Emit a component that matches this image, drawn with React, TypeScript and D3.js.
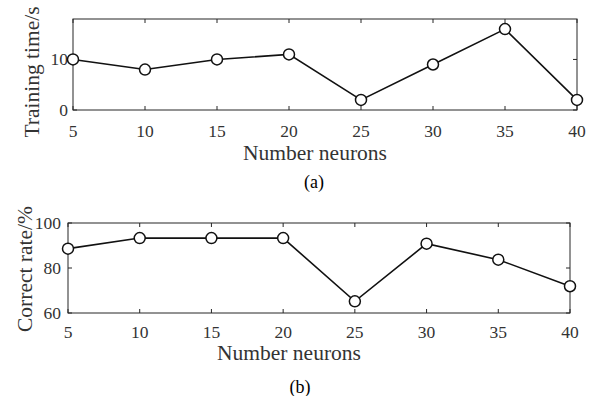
import React from "react";
import * as d3 from "d3";

const neurons = [5, 10, 15, 20, 25, 30, 35, 40];
const trainingTime = [10, 8, 10, 11, 2, 9, 16, 2];
const correctRate = [88.6, 93.3, 93.3, 93.3, 65.2, 90.8, 83.7, 71.9];
const xTicks = [5, 10, 15, 20, 25, 30, 35, 40];
const yTicksA = [0, 10];
const yTicksB = [60, 80, 100];

const FONT = "'Liberation Serif', 'Times New Roman', serif";

type PanelProps = {
  left: number; right: number; top: number; bottom: number;
  yDomain: [number, number]; yTicks: number[]; values: number[];
  yLabel: string; yLabelX: number; yLabelY: number;
  xLabelX: number; xLabelY: number; xTickY: number; yTickX: number;
  tag: string; tagX: number; tagY: number;
};

function Panel(p: PanelProps) {
  const x = d3.scaleLinear().domain([5, 40]).range([p.left, p.right]);
  const y = d3.scaleLinear().domain(p.yDomain).range([p.bottom, p.top]);
  const line = d3.line<number>().x((_, i) => x(neurons[i])).y((d) => y(d));
  const tl = 4;
  return (
    <g>
      <rect x={p.left} y={p.top} width={p.right - p.left} height={p.bottom - p.top} fill="none" stroke="#262626" strokeWidth={1} />
      {xTicks.map((t) => (
        <g key={"x" + t}>
          <line x1={x(t)} x2={x(t)} y1={p.bottom} y2={p.bottom - tl} stroke="#262626" />
          <line x1={x(t)} x2={x(t)} y1={p.top} y2={p.top + tl} stroke="#262626" />
          <text x={x(t)} y={p.xTickY} fontSize={17.5} fontFamily={FONT} textAnchor="middle" dominantBaseline="central" fill="#333">{t}</text>
        </g>
      ))}
      {p.yTicks.map((t) => (
        <g key={"y" + t}>
          <line x1={p.left} x2={p.left + tl} y1={y(t)} y2={y(t)} stroke="#262626" />
          <line x1={p.right} x2={p.right - tl} y1={y(t)} y2={y(t)} stroke="#262626" />
          <text x={p.yTickX} y={y(t)} fontSize={17.5} fontFamily={FONT} textAnchor="end" dominantBaseline="central" fill="#333">{t}</text>
        </g>
      ))}
      <path d={line(p.values) || ""} fill="none" stroke="#111" strokeWidth={1.6} />
      {p.values.map((v, i) => (
        <circle key={i} cx={x(neurons[i])} cy={y(v)} r={5.5} fill="#fff" stroke="#111" strokeWidth={1.5} />
      ))}
      <text x={p.xLabelX} y={p.xLabelY} fontSize={21.5} fontFamily={FONT} textAnchor="middle" dominantBaseline="central" fill="#333">Number neurons</text>
      <text transform={`translate(${p.yLabelX},${p.yLabelY}) rotate(-90)`} fontSize={21.5} fontFamily={FONT} textAnchor="middle" dominantBaseline="central" fill="#333">{p.yLabel}</text>
      <text x={p.tagX} y={p.tagY} fontSize={18} fontFamily={FONT} textAnchor="middle" dominantBaseline="central" fill="#000">{p.tag}</text>
    </g>
  );
}

export default function App() {
  return (
    <svg width={597} height={396} style={{ position: "absolute", left: 0, top: 0, background: "#fff" }}>
      <rect width={597} height={396} fill="#fff" />
      <Panel left={73} right={577} top={19} bottom={110} yDomain={[0, 18]} yTicks={yTicksA} values={trainingTime}
        yLabel="Training time/s" yLabelX={32} yLabelY={72} xLabelX={315} xLabelY={153} xTickY={130.5} yTickX={68}
        tag="(a)" tagX={314} tagY={182} />
      <Panel left={68} right={570} top={223} bottom={313} yDomain={[60, 100]} yTicks={yTicksB} values={correctRate}
        yLabel="Correct rate/%" yLabelX={25} yLabelY={269} xLabelX={289} xLabelY={353} xTickY={332} yTickX={61}
        tag="(b)" tagX={300} tagY={387} />
    </svg>
  );
}
